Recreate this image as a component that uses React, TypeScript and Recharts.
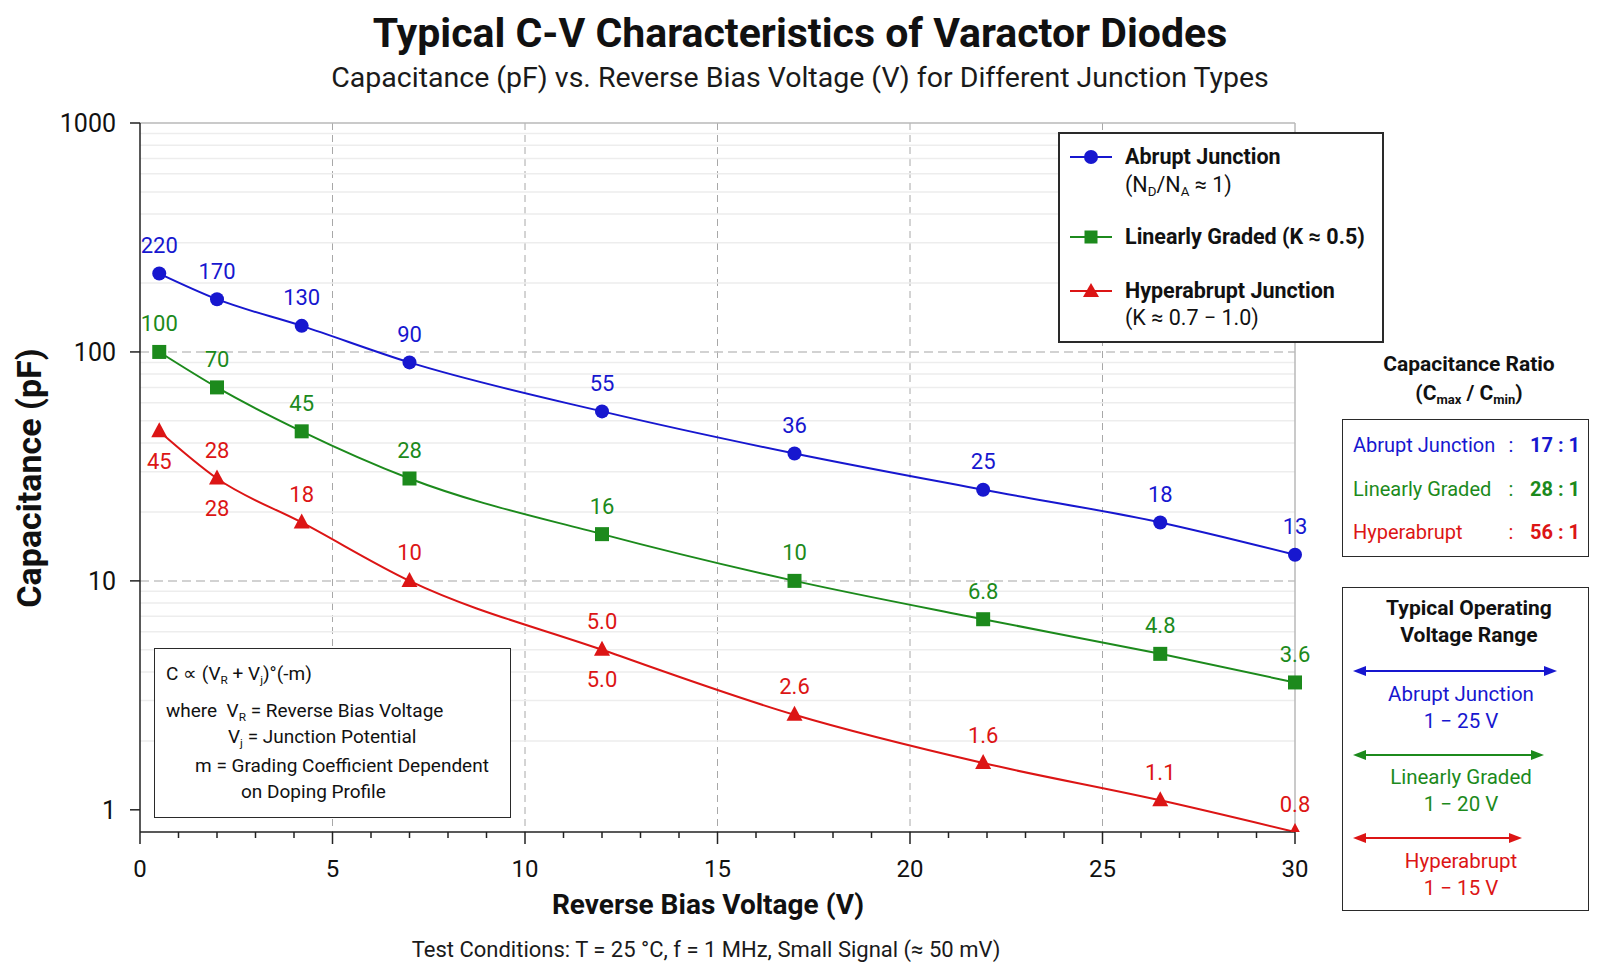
import React from 'react';
import {
  LineChart, Line, XAxis, YAxis, CartesianGrid, ReferenceLine, LabelList,
} from 'recharts';

// Reverse bias (V) and capacitance (pF) per junction type
const voltage = [0.5, 2, 4.2, 7, 12, 17, 21.9, 26.5, 30];
const abruptPf = [220, 170, 130, 90, 55, 36, 25, 18, 13];
const gradedPf = [100, 70, 45, 28, 16, 10, 6.8, 4.8, 3.6];
const hyperPf = [45, 28, 18, 10, 5.0, 2.6, 1.6, 1.1, 0.8];

const yTicks = [1, 10, 100, 1000];

const ratioNames = ['Abrupt Junction', 'Linearly Graded', 'Hyperabrupt'];
const ratioValues = ['17 : 1', '28 : 1', '56 : 1'];
const rangeNames = ['Abrupt Junction', 'Linearly Graded', 'Hyperabrupt'];
const rangeValues = ['1 − 25 V', '1 − 20 V', '1 − 15 V'];

const BLUE = '#1717cf';
const GREEN = '#1c8a1c';
const RED = '#dc1515';
const FONT = 'Roboto, "Liberation Sans", Arial, sans-serif';

const W = 1599;
const H = 964;

const rows = voltage.map((v, i) => ({ v, abrupt: abruptPf[i], graded: gradedPf[i], hyper: hyperPf[i] }));
const xAllTicks = Array.from({ length: 31 }, (_, i) => i);
const minorLines = [1, 10, 100].flatMap((d) => [2, 3, 4, 5, 6, 7, 8, 9].map((m) => m * d));

const fmt = (v: number) => (v >= 10 ? String(v) : v.toFixed(1));

function XTick({ x, y, payload }: any) {
  const major = payload.value % 5 === 0;
  return (
    <g>
      <line x1={x} x2={x} y1={y} y2={y + (major ? 12 : 6)} stroke="#222" strokeWidth={1.5} />
      {major && (
        <text x={x} y={y + 37} textAnchor="middle" dominantBaseline="central" fontSize={24} fill="#111" fontFamily={FONT}>
          {payload.value}
        </text>
      )}
    </g>
  );
}

const SquareDot = (p: any) => (
  <rect key={`sq-${p.index}`} x={p.cx - 7} y={p.cy - 7} width={14} height={14} fill={GREEN} />
);
const TriangleDot = (p: any) => (
  <polygon key={`tr-${p.index}`} points={`${p.cx},${p.cy - 9} ${p.cx + 8},${p.cy + 6} ${p.cx - 8},${p.cy + 6}`} fill={RED} />
);

const valueLabel = (color: string, below: (i: number) => boolean) => (p: any) => (
  <text
    key={`lb-${color}-${p.index}`}
    x={p.x}
    y={below(p.index) ? p.y + 30 : p.y - 28}
    textAnchor="middle"
    dominantBaseline="central"
    fontSize={22}
    fill={color}
    fontFamily={FONT}
  >
    {fmt(p.value)}
  </text>
);

// red series carries a second value label under some points
const hyperExtraBelow = [1, 4];
const extraLabel = (p: any) =>
  hyperExtraBelow.includes(p.index) ? (
    <text key={`ex-${p.index}`} x={p.x} y={p.y + 30} textAnchor="middle" dominantBaseline="central" fontSize={22} fill={RED} fontFamily={FONT}>
      {fmt(p.value)}
    </text>
  ) : null;

function Txt({ x, y, size, bold, color = '#111', anchor = 'left', children }: any) {
  const style: React.CSSProperties = {
    position: 'absolute',
    top: y - size * 0.6,
    fontSize: size,
    lineHeight: `${size * 1.2}px`,
    fontWeight: bold ? 700 : 400,
    color,
    whiteSpace: 'nowrap',
  };
  if (anchor === 'left') style.left = x;
  else if (anchor === 'center') {
    style.left = x;
    style.transform = 'translateX(-50%)';
  } else style.right = W - x;
  return <div style={style}>{children}</div>;
}

const boxStyle = (l: number, t: number, w: number, h: number, bw = 1.5): React.CSSProperties => ({
  position: 'absolute', left: l, top: t, width: w, height: h, border: `${bw}px solid #2a2a2a`,
  background: '#fff', boxSizing: 'border-box',
});

function LegendIcon({ y, color, kind }: any) {
  return (
    <svg style={{ position: 'absolute', left: 1068, top: y - 10 }} width={46} height={20}>
      <line x1={2} x2={44} y1={10} y2={10} stroke={color} strokeWidth={2} />
      {kind === 'circle' && <circle cx={23} cy={10} r={7} fill={color} />}
      {kind === 'square' && <rect x={16.5} y={3.5} width={13} height={13} fill={color} />}
      {kind === 'triangle' && <polygon points="23,2 31,16 15,16" fill={color} />}
    </svg>
  );
}

function RangeArrow({ y, x1, x2, color }: any) {
  return (
    <svg style={{ position: 'absolute', left: 0, top: y - 8 }} width={W} height={16}>
      <line x1={x1 + 8} x2={x2 - 8} y1={8} y2={8} stroke={color} strokeWidth={2} />
      <polygon points={`${x1},8 ${x1 + 13},3 ${x1 + 13},13`} fill={color} />
      <polygon points={`${x2},8 ${x2 - 13},3 ${x2 - 13},13`} fill={color} />
    </svg>
  );
}

const sub = (s: string) => <sub style={{ fontSize: '0.62em', verticalAlign: '-0.3em' }}>{s}</sub>;

export default function App() {
  const seriesColors = [BLUE, GREEN, RED];
  const arrowEnds = [1557, 1544, 1522];
  return (
    <div style={{ position: 'absolute', left: 0, top: 0, width: W, height: H, background: '#fff', fontFamily: FONT, overflow: 'hidden' }}>
      <LineChart width={W} height={H} data={rows} margin={{ top: 123, right: 304, bottom: 92, left: 40 }}>
        <CartesianGrid horizontal={false} verticalValues={[5, 10, 15, 20, 25]} stroke="#a8a8a8" strokeDasharray="7 5" />
        {minorLines.map((m) => (
          <ReferenceLine key={m} y={m} stroke="#ededed" strokeWidth={1.5} />
        ))}
        <ReferenceLine y={10} stroke="#c4c4c4" strokeWidth={1.5} strokeDasharray="9 5" />
        <ReferenceLine y={100} stroke="#c4c4c4" strokeWidth={1.5} strokeDasharray="9 5" />
        <ReferenceLine y={1000} stroke="#b8b8b8" strokeWidth={1.5} />
        <ReferenceLine x={30} stroke="#b8b8b8" strokeWidth={1.5} />
        <XAxis
          dataKey="v"
          type="number"
          domain={[0, 30]}
          ticks={xAllTicks}
          interval={0}
          height={40}
          tickSize={0}
          tickMargin={0}
          tickLine={false}
          tick={<XTick />}
          axisLine={{ stroke: '#222', strokeWidth: 1.5 }}
        />
        <YAxis
          type="number"
          scale="log"
          domain={[0.8, 1000]}
          allowDataOverflow
          ticks={yTicks}
          interval={0}
          width={100}
          tickSize={10}
          tickMargin={14}
          tick={{ fontSize: 25, fill: '#111', fontFamily: FONT }}
          tickLine={{ stroke: '#222', strokeWidth: 1.5 }}
          axisLine={{ stroke: '#222', strokeWidth: 1.5 }}
        />
        <Line type="monotone" dataKey="abrupt" stroke={BLUE} strokeWidth={2} dot={{ r: 7, fill: BLUE, stroke: BLUE, strokeWidth: 0 }} isAnimationActive={false}>
          <LabelList dataKey="abrupt" content={valueLabel(BLUE, () => false)} />
        </Line>
        <Line type="monotone" dataKey="graded" stroke={GREEN} strokeWidth={2} dot={SquareDot} isAnimationActive={false}>
          <LabelList dataKey="graded" content={valueLabel(GREEN, () => false)} />
        </Line>
        <Line type="monotone" dataKey="hyper" stroke={RED} strokeWidth={2} dot={TriangleDot} isAnimationActive={false}>
          <LabelList dataKey="hyper" content={valueLabel(RED, (i) => i === 0)} />
          <LabelList dataKey="hyper" content={extraLabel} />
        </Line>
      </LineChart>

      <Txt x={800} y={34} size={41} bold anchor="center">Typical C-V Characteristics of Varactor Diodes</Txt>
      <Txt x={800} y={78} size={28.5} anchor="center" color="#1a1a1a">
        Capacitance (pF) vs. Reverse Bias Voltage (V) for Different Junction Types
      </Txt>

      <div style={{ position: 'absolute', left: 29, top: 478, transform: 'translate(-50%, -50%) rotate(-90deg)', fontSize: 34, fontWeight: 700, whiteSpace: 'nowrap', color: '#111' }}>
        Capacitance (pF)
      </div>
      <Txt x={708} y={905} size={28} bold anchor="center">Reverse Bias Voltage (V)</Txt>
      <Txt x={706} y={950} size={22} anchor="center" color="#1a1a1a">
        Test Conditions: T = 25 °C, f = 1 MHz, Small Signal (≈ 50 mV)
      </Txt>

      {/* series legend */}
      <div style={boxStyle(1058, 132, 326, 211, 2)} />
      <LegendIcon y={157} color={BLUE} kind="circle" />
      <Txt x={1125} y={157} size={21.5} bold>Abrupt Junction</Txt>
      <Txt x={1125} y={185} size={21.5}>(N{sub('D')}/N{sub('A')} ≈ 1)</Txt>
      <LegendIcon y={237} color={GREEN} kind="square" />
      <Txt x={1125} y={237} size={21.5} bold>Linearly Graded (K ≈ 0.5)</Txt>
      <LegendIcon y={291} color={RED} kind="triangle" />
      <Txt x={1125} y={291} size={21.5} bold>Hyperabrupt Junction</Txt>
      <Txt x={1125} y={318} size={21.5}>(K ≈ 0.7 − 1.0)</Txt>

      {/* capacitance ratio */}
      <Txt x={1469} y={365} size={21} bold anchor="center">Capacitance Ratio</Txt>
      <Txt x={1469} y={394} size={21} bold anchor="center">(C{sub('max')} / C{sub('min')})</Txt>
      <div style={boxStyle(1342, 419, 247, 138)} />
      {ratioNames.map((n, i) => (
        <React.Fragment key={n}>
          <Txt x={1353} y={445 + i * 43.5} size={20} color={seriesColors[i]}>{n}</Txt>
          <Txt x={1511} y={445 + i * 43.5} size={20} color={seriesColors[i]} anchor="center">:</Txt>
          <Txt x={1580} y={445 + i * 43.5} size={20} bold color={seriesColors[i]} anchor="right">{ratioValues[i]}</Txt>
        </React.Fragment>
      ))}

      {/* operating voltage range */}
      <div style={boxStyle(1342, 587, 247, 324)} />
      <Txt x={1469} y={609} size={21} bold anchor="center">Typical Operating</Txt>
      <Txt x={1469} y={636} size={21} bold anchor="center">Voltage Range</Txt>
      {rangeNames.map((n, i) => (
        <React.Fragment key={n}>
          <RangeArrow y={671 + i * 83.5} x1={1353} x2={arrowEnds[i]} color={seriesColors[i]} />
          <Txt x={1461} y={694 + i * 83.5} size={20.5} color={seriesColors[i]} anchor="center">{n}</Txt>
          <Txt x={1461} y={721 + i * 83.5} size={20.5} color={seriesColors[i]} anchor="center">{rangeValues[i]}</Txt>
        </React.Fragment>
      ))}

      {/* depletion capacitance relation */}
      <div style={boxStyle(154, 648, 357, 170)} />
      <Txt x={166} y={674} size={19}>C ∝ (V{sub('R')} + V{sub('j')})°(-m)</Txt>
      <Txt x={166} y={711} size={19}>where&nbsp; V{sub('R')} = Reverse Bias Voltage</Txt>
      <Txt x={228} y={737} size={19}>V{sub('j')} = Junction Potential</Txt>
      <Txt x={195} y={766} size={19}>m = Grading Coefficient Dependent</Txt>
      <Txt x={241} y={792} size={19}>on Doping Profile</Txt>
    </div>
  );
}
